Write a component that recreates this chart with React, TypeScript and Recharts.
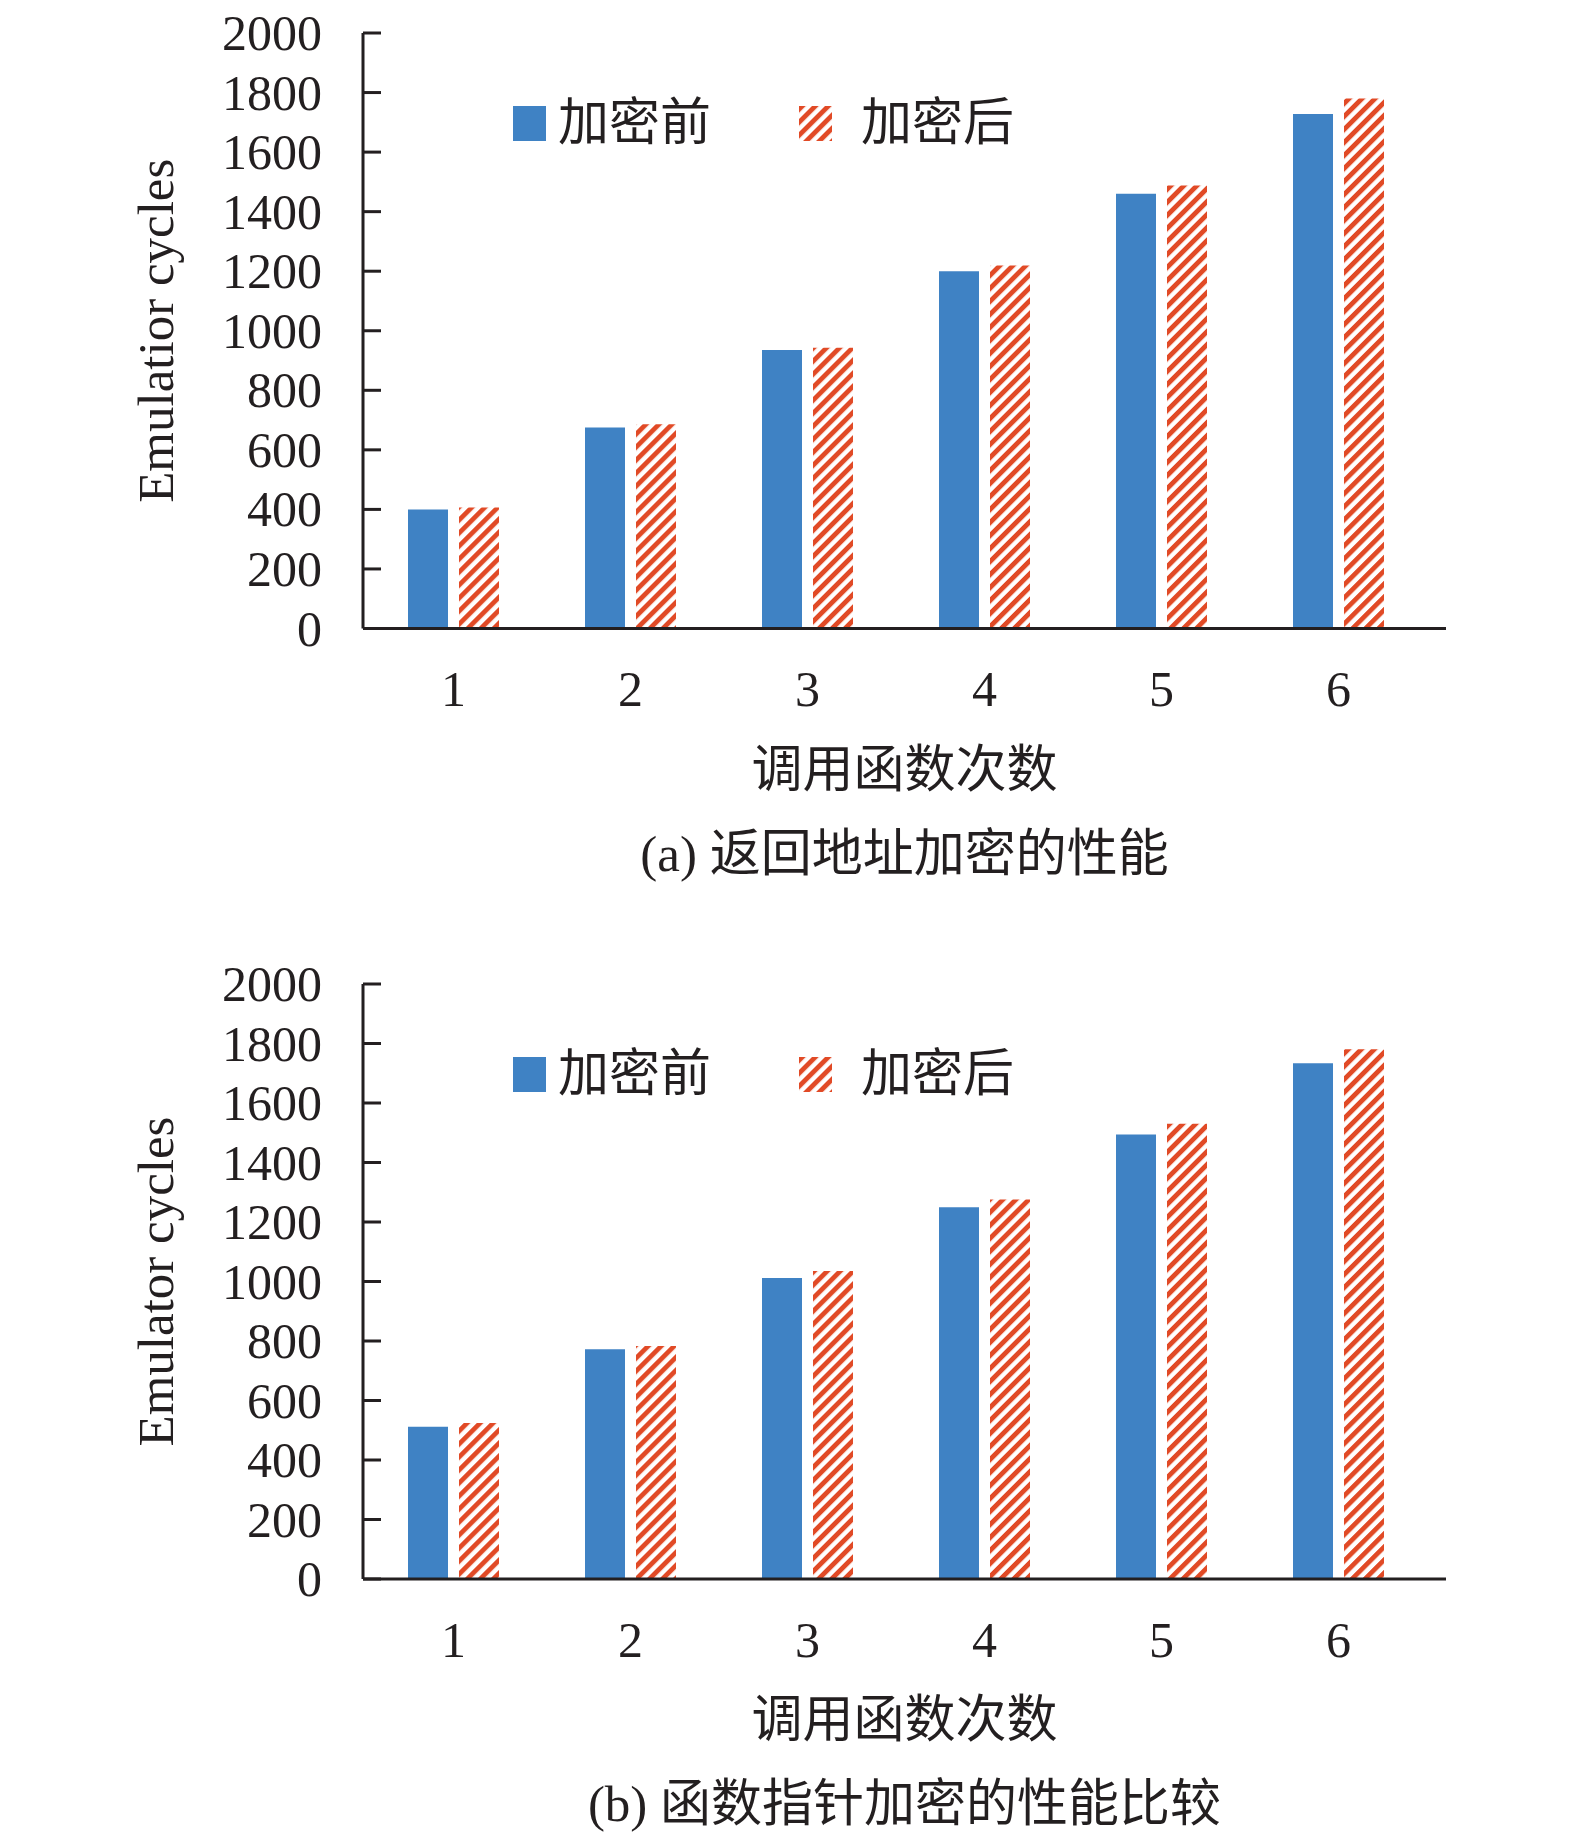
import React from 'react';
import { BarChart, Bar, XAxis, YAxis, Legend, Label } from 'recharts';

const categories = ['1', '2', '3', '4', '5', '6'];
const yTicks = [0, 200, 400, 600, 800, 1000, 1200, 1400, 1600, 1800, 2000];

// (a) return address encryption
const returnAddrBefore = [400, 675, 935, 1200, 1460, 1728];
const returnAddrAfter = [406, 686, 943, 1219, 1488, 1780];

// (b) function pointer encryption
const funcPtrBefore = [512, 772, 1012, 1250, 1494, 1734];
const funcPtrAfter = [524, 783, 1035, 1276, 1530, 1781];

const seriesNames = ['加密前', '加密后'];

const BLUE = '#3F82C4';
const RED = '#E14A26';
const INK = '#231F20';
const FONT = "'Liberation Serif', 'Noto Sans CJK SC', serif";

const HatchDef = ({ id }: { id: string }) => (
  <pattern id={id} patternUnits="userSpaceOnUse" width={9.2} height={9.2} patternTransform="rotate(45)">
    <rect x={0} y={0} width={9.2} height={9.2} fill="#fff" />
    <rect x={0} y={0} width={4.8} height={9.2} fill={RED} />
  </pattern>
);

const YTick = (props: any) => {
  const { x, y, payload } = props;
  return (
    <g>
      <line x1={x + 41} x2={x + 59} y1={y} y2={y} stroke={INK} strokeWidth={3} />
      <text x={x} y={y} textAnchor="end" dominantBaseline="central" fontSize={50} fill={INK} fontFamily={FONT}>
        {payload.value}
      </text>
    </g>
  );
};

const LegendBox = ({ hatchId }: { hatchId: string }) => (
  <div style={{ display: 'flex', alignItems: 'center', height: 52, fontFamily: FONT, fontSize: 51, color: INK }}>
    <svg width={33} height={35} style={{ display: 'block' }}>
      <rect width={33} height={35} fill={BLUE} />
    </svg>
    <span style={{ marginLeft: 12, lineHeight: '52px' }}>{seriesNames[0]}</span>
    <svg width={33} height={35} style={{ display: 'block', marginLeft: 88 }}>
      <defs>
        <HatchDef id={hatchId} />
      </defs>
      <rect width={33} height={35} fill={`url(#${hatchId})`} />
    </svg>
    <span style={{ marginLeft: 29, lineHeight: '52px' }}>{seriesNames[1]}</span>
  </div>
);

interface PanelProps {
  before: number[];
  after: number[];
  yLabel: string;
  caption: string;
  id: string;
  height: number;
  top: number;
  bottom: number;
}

const X_AXIS_HEIGHT = 60;

const Panel = ({ before, after, yLabel, caption, id, height, top, bottom }: PanelProps) => {
  const data = categories.map((c, i) => ({ name: c, before: before[i], after: after[i] }));
  return (
    <BarChart
      width={1575}
      height={height}
      data={data}
      margin={{ top, right: 129, bottom: bottom - X_AXIS_HEIGHT, left: 243 }}
      barSize={40}
      barGap={11}
    >
      <defs>
        <HatchDef id={`hatch-${id}`} />
      </defs>
      <XAxis
        dataKey="name"
        axisLine={{ stroke: INK, strokeWidth: 3 }}
        tickLine={false}
        tickSize={0}
        tickMargin={42}
        padding={{ left: 2, right: 19 }}
        height={X_AXIS_HEIGHT}
        tick={{ fontSize: 50, fill: INK, fontFamily: FONT }}
      >
        <Label
          content={(p: any) => {
            const vb = p.viewBox;
            return (
              <text x={vb.x + vb.width / 2} y={vb.y + 141} textAnchor="middle" dominantBaseline="central" fontSize={51} fill={INK} fontFamily={FONT}>
                调用函数次数
              </text>
            );
          }}
        />
        <Label
          content={(p: any) => {
            const vb = p.viewBox;
            return (
              <text x={vb.x + vb.width / 2} y={vb.y + 225} textAnchor="middle" dominantBaseline="central" fontSize={51} fill={INK} fontFamily={FONT}>
                {caption}
              </text>
            );
          }}
        />
      </XAxis>
      <YAxis
        domain={[0, 2000]}
        ticks={yTicks}
        interval={0}
        width={120}
        axisLine={{ stroke: INK, strokeWidth: 3 }}
        tickLine={false}
        tickSize={0}
        tickMargin={41}
        tick={<YTick />}
      >
        <Label
          content={(p: any) => {
            const vb = p.viewBox;
            const cx = vb.x - 87;
            const cy = vb.y + vb.height / 2;
            return (
              <text x={cx} y={cy} transform={`rotate(-90 ${cx} ${cy})`} textAnchor="middle" dominantBaseline="central" fontSize={51} fill={INK} fontFamily={FONT}>
                {yLabel}
              </text>
            );
          }}
        />
      </YAxis>
      <Legend
        layout="vertical"
        align="center"
        verticalAlign="middle"
        wrapperStyle={{ top: top + 64, left: 513, width: 'auto' }}
        content={() => <LegendBox hatchId={`lg-hatch-${id}`} />}
      />
      <Bar dataKey="before" name={seriesNames[0]} fill={BLUE} isAnimationActive={false} />
      <Bar dataKey="after" name={seriesNames[1]} fill={`url(#hatch-${id})`} isAnimationActive={false} />
    </BarChart>
  );
};

export default function App() {
  return (
    <div style={{ position: 'absolute', left: 0, top: 0, width: 1575, height: 1843, background: '#fff' }}>
      <div style={{ position: 'absolute', left: 0, top: 0 }}>
        <Panel
          id="a"
          before={returnAddrBefore}
          after={returnAddrAfter}
          yLabel="Emulatior cycles"
          caption="(a) 返回地址加密的性能"
          height={950}
          top={33}
          bottom={321.5}
        />
      </div>
      <div style={{ position: 'absolute', left: 0, top: 950 }}>
        <Panel
          id="b"
          before={funcPtrBefore}
          after={funcPtrAfter}
          yLabel="Emulator cycles"
          caption="(b) 函数指针加密的性能比较"
          height={893}
          top={34}
          bottom={264}
        />
      </div>
    </div>
  );
}
